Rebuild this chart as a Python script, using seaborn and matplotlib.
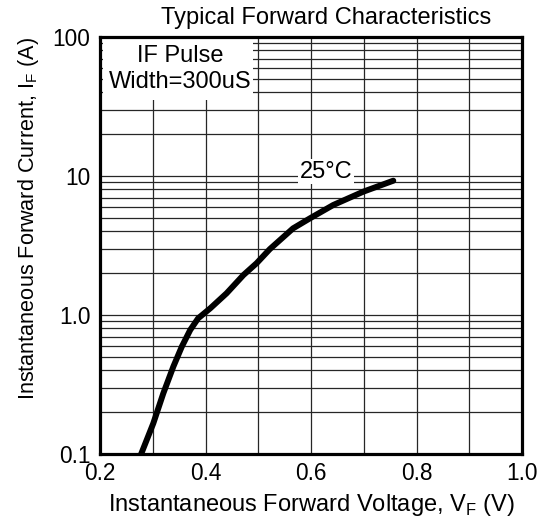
import numpy as np
import pandas as pd
import matplotlib
matplotlib.use("Agg")
import matplotlib.pyplot as plt
import matplotlib.ticker as mticker
from matplotlib.patches import Rectangle
import seaborn as sns

# ---- data ----
vf = [0.278, 0.301, 0.320, 0.339, 0.355, 0.371, 0.386, 0.409, 0.440,
      0.472, 0.497, 0.522, 0.566, 0.598, 0.642, 0.699, 0.756]
i_f = [0.100, 0.166, 0.273, 0.425, 0.591, 0.780, 0.946, 1.117, 1.433,
       1.94, 2.36, 2.98, 4.20, 4.96, 6.18, 7.71, 9.25]
x_ticks = [0.2, 0.4, 0.6, 0.8, 1.0]
x_tick_labels = ["0.2", "0.4", "0.6", "0.8", "1.0"]
y_ticks = [0.1, 1, 10, 100]
y_tick_labels = ["0.1", "1.0", "10", "100"]
title = "Typical Forward Characteristics"
xlabel = r"Instantaneous Forward Voltage, V$_\mathregular{F}$ (V)"
ylabel = r"Instantaneous Forward Current, I$_\mathregular{F}$ (A)"
note = "IF Pulse\nWidth=300uS"
curve_label = "25°C"

df = pd.DataFrame({"vf": vf, "if": i_f})

sns.set_theme(style="white")
plt.rcParams["font.family"] = ["Liberation Sans", "DejaVu Sans"]
FS = 17
FS_TICK = 16.3
FS_Y = 15.6

fig = plt.figure(figsize=(5.42, 5.23), dpi=100)
ax = fig.add_axes([100 / 542, 69 / 523, 422 / 542, 417 / 523])

ax.set_yscale("log")
ax.set_xlim(0.2, 1.0)
ax.set_ylim(0.1, 100)

ax.set_axisbelow(True)
ax.xaxis.set_major_locator(mticker.FixedLocator(x_ticks))
ax.xaxis.set_minor_locator(mticker.MultipleLocator(0.1))
ax.set_xticklabels(x_tick_labels)
ax.yaxis.set_major_locator(mticker.FixedLocator(y_ticks))
ax.yaxis.set_minor_locator(mticker.LogLocator(base=10, subs=np.arange(2, 10)))
ax.set_yticklabels(y_tick_labels)
ax.yaxis.set_minor_formatter(mticker.NullFormatter())
ax.grid(which="both", color="#262626", linewidth=0.9)

ax.tick_params(which="both", length=0)
ax.tick_params(axis="x", labelsize=FS_TICK, pad=6, colors="black")
ax.tick_params(axis="y", labelsize=FS_TICK, pad=7, colors="black")

for s in ax.spines.values():
    s.set_color("black")
    s.set_linewidth(2.3)
    s.set_zorder(5)

sns.lineplot(data=df, x="vf", y="if", ax=ax, sort=False, color="black",
             linewidth=4.3, solid_capstyle="round", solid_joinstyle="round",
             zorder=4)

# white label boxes
ax.add_patch(Rectangle((0.007, 0.849), 0.355, 0.149, transform=ax.transAxes,
                       facecolor="white", edgecolor="none", zorder=2))
ax.text(0.191, 0.923, note, transform=ax.transAxes, ha="center", va="center",
        fontsize=FS, linespacing=1.2, color="black", zorder=3)
ax.text(0.536, 0.677, curve_label, transform=ax.transAxes, ha="center",
        va="center", fontsize=FS, color="black", zorder=3,
        bbox=dict(facecolor="white", edgecolor="none", pad=1.0))

ax.text(0.535, 1.018, title, transform=ax.transAxes, ha="center",
        va="bottom", fontsize=FS, color="black")

ax.set_xlabel(xlabel, fontsize=FS, color="black")
ax.set_ylabel(ylabel, fontsize=FS_Y, color="black")
ax.xaxis.set_label_coords(0.5, -0.09)
ax.yaxis.set_label_coords(-0.14, 0.565)

fig.savefig("out.png", dpi=100, facecolor="white")
